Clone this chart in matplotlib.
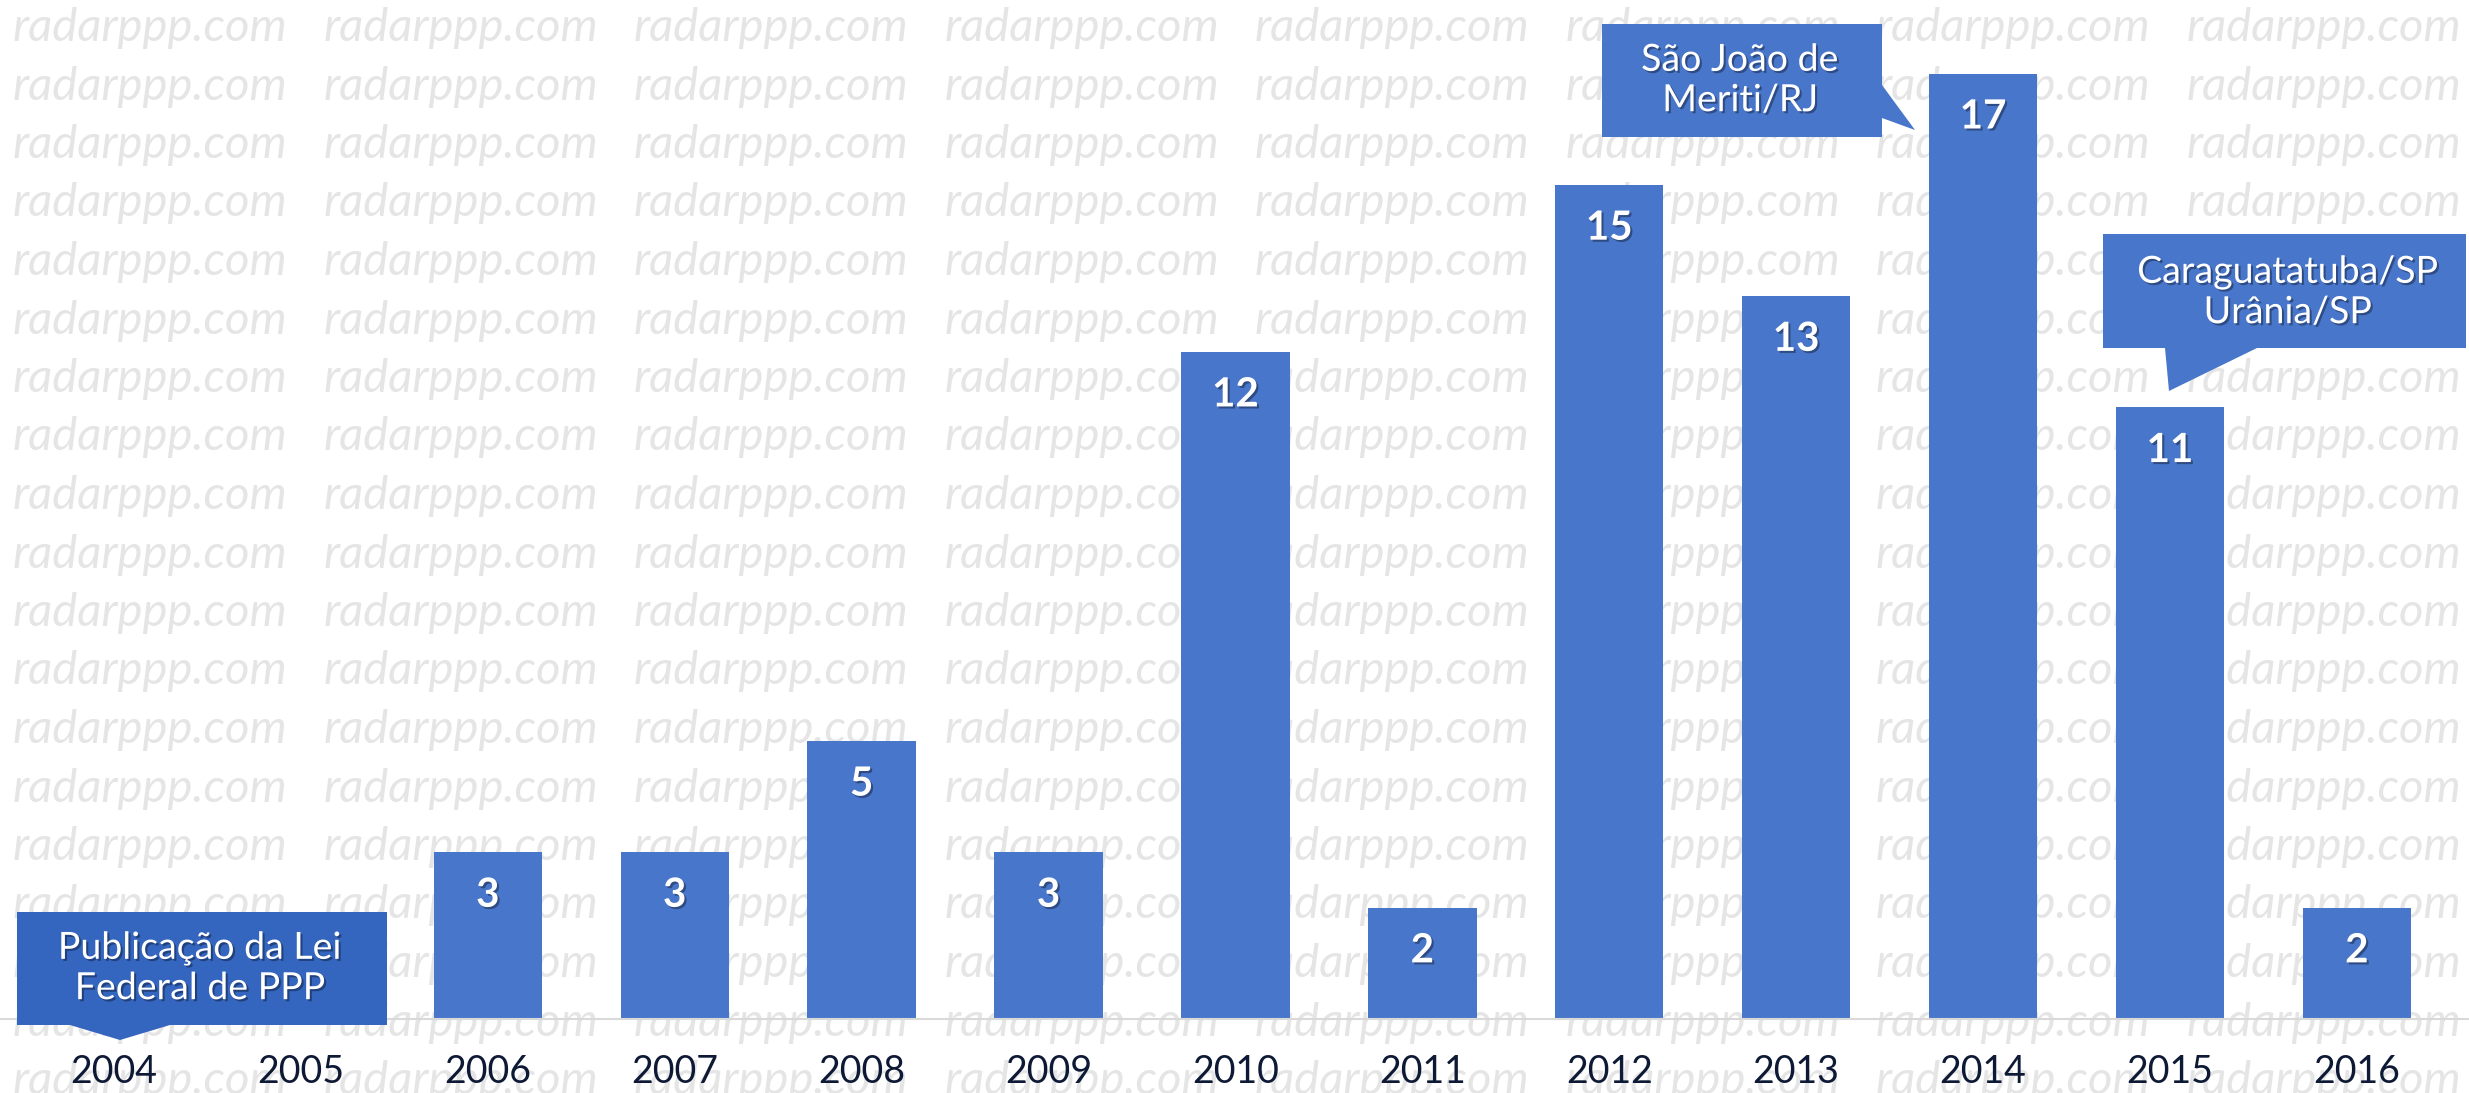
import numpy as np
import matplotlib.pyplot as plt
from matplotlib.patches import Polygon
import matplotlib.patheffects as pe

# dados: numero de contratos de PPP por ano
years = [str(y) for y in range(2004, 2017)]
counts = [0, 0, 3, 3, 5, 3, 12, 2, 15, 13, 17, 11, 2]

callout_texts = ["Publicação da Lei\nFederal de PPP",
                 "São João de\nMeriti/RJ",
                 "Caraguatatuba/SP\nUrânia/SP"]

W, H = 2469, 1093
plt.rcParams['font.family'] = ['Lato', 'DejaVu Sans']
fig = plt.figure(figsize=(W / 100, H / 100), dpi=100)


def fx(px):
    return px / W


def fy(py):
    # pixel medido a partir do topo -> fracao da figura
    return 1 - py / H


# marca d'agua ao fundo
for r in range(19):
    for c in range(8):
        fig.text(fx(13 + 310.5 * c), fy(28 + 58.5 * r), "radarppp.com",
                 ha="left", va="center", fontstyle="italic", fontsize=34,
                 color="#e5e5e5", zorder=-1)

ax = fig.add_axes([0, fy(1019), 1, 1 - fy(1019)])
ax.patch.set_alpha(0)
x = np.arange(len(years))
bars = ax.bar(x, counts, width=0.58, color="#4876CA", zorder=2)
ax.set_xlim(-0.61, 12.6)
ax.set_ylim(0, 18.33)

for s in ["top", "left", "right"]:
    ax.spines[s].set_visible(False)
ax.spines["bottom"].set_color("#d9d9d9")
ax.spines["bottom"].set_linewidth(1.5)
ax.set_yticks([])
ax.set_xticks(x)
ax.set_xticklabels(years, fontsize=27, color="#0e1a35")
ax.tick_params(axis="x", length=0, pad=25)

shadow = [pe.withSimplePatchShadow(offset=(1.5, -1.5), shadow_rgbFace="k", alpha=0.35)]

for xi, v in zip(x, counts):
    if v == 0:
        continue
    ax.annotate(str(v), (xi, v), xytext=(0, -31), textcoords="offset points",
                ha="center", va="center", fontsize=29, fontweight="bold",
                color="white", path_effects=shadow, zorder=3)

# balões de texto
callouts = [
    ([(17, 912), (387, 912), (387, 1025), (170, 1025), (120, 1040), (70, 1025), (17, 1025)],
     (200, 968), "#3465BF"),
    ([(1602, 24), (1882, 24), (1882, 85), (1915, 130), (1882, 118), (1882, 137), (1602, 137)],
     (1740, 80), "#4876CA"),
    ([(2103, 234), (2466, 234), (2466, 348), (2257, 348), (2169, 391), (2165, 348), (2103, 348)],
     (2288, 292), "#4876CA"),
]
for (verts, (tx, ty), col), txt in zip(callouts, callout_texts):
    poly = Polygon([(fx(a), fy(b)) for a, b in verts], closed=True,
                   transform=fig.transFigure, facecolor=col, edgecolor="none", zorder=5)
    fig.add_artist(poly)
    fig.text(fx(tx), fy(ty), txt, ha="center", va="center", fontsize=27,
             color="white", linespacing=1.15, path_effects=shadow, zorder=6)

fig.savefig("out.png", dpi=100)
